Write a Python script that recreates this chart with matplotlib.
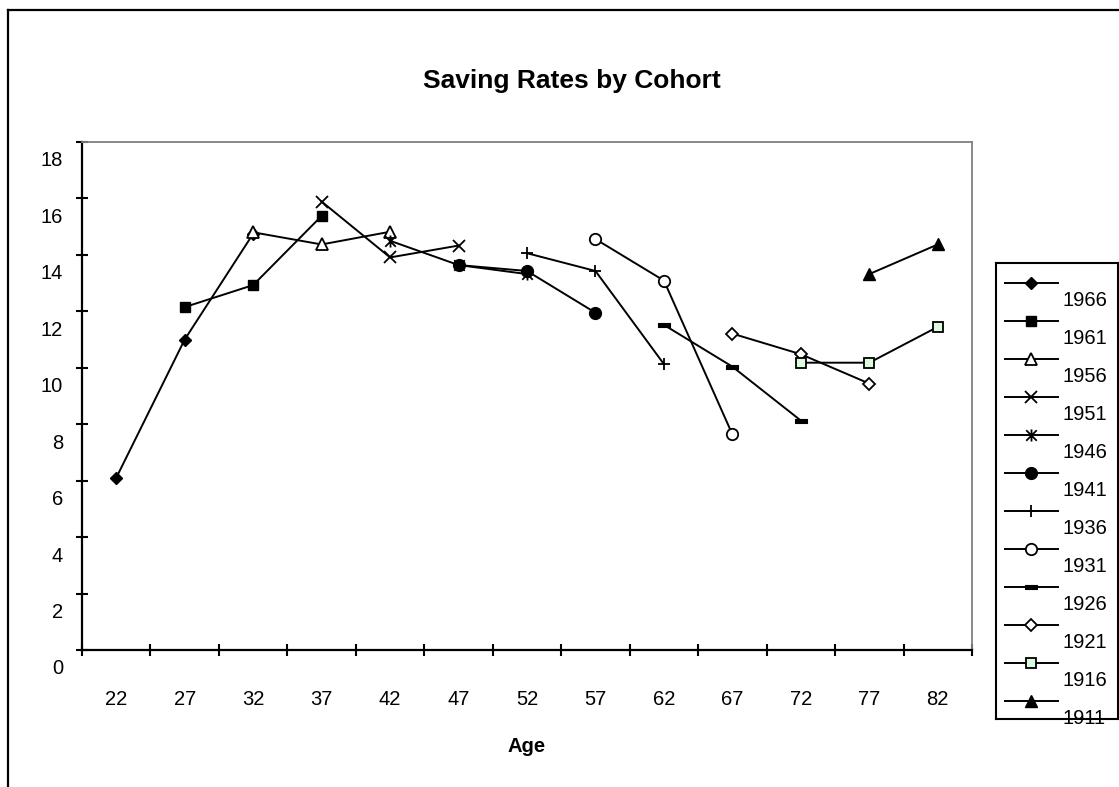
import numpy as np
import matplotlib
matplotlib.use("Agg")
import matplotlib.pyplot as plt
from matplotlib.path import Path
from matplotlib.lines import Line2D
from matplotlib.transforms import ScaledTranslation

plt.rcParams['font.family'] = ['Liberation Sans', 'DejaVu Sans']

# ---------------- data ----------------
ages = [22, 27, 32, 37, 42, 47, 52, 57, 62, 67, 72, 77, 82]
cohorts = ["1966", "1961", "1956", "1951", "1946", "1941",
           "1936", "1931", "1926", "1921", "1916", "1911"]
start_age = [22, 27, 32, 37, 42, 47, 52, 57, 62, 67, 72, 77]
rate_1966 = [6.1, 11.0, 14.75]
rate_1961 = [12.15, 12.93, 15.38]
rate_1956 = [14.8, 14.37, 14.82]
rate_1951 = [15.89, 13.91, 14.33]
rate_1946 = [14.5, 13.64, 13.32]
rate_1941 = [13.64, 13.43, 11.95]
rate_1936 = [14.06, 13.43, 10.13]
rate_1931 = [14.56, 13.09, 7.64]
rate_1926 = [11.52, 10.04, 8.13]
rate_1921 = [11.21, 10.48, 9.44]
rate_1916 = [10.18, 10.18, 11.45]
rate_1911 = [13.32, 14.37]
rates = [rate_1966, rate_1961, rate_1956, rate_1951, rate_1946, rate_1941,
         rate_1936, rate_1931, rate_1926, rate_1921, rate_1916, rate_1911]
yticks = [0, 2, 4, 6, 8, 10, 12, 14, 16, 18]

# ---------------- marker styles ----------------
asterisk = Path([(-1, -1), (1, 1), (-1, 1), (1, -1), (0, -1.15), (0, 1.15)],
                [Path.MOVETO, Path.LINETO, Path.MOVETO, Path.LINETO,
                 Path.MOVETO, Path.LINETO])
dash = Path([(-1, -0.3), (1, -0.3), (1, 0.3), (-1, 0.3), (-1, -0.3)],
            [Path.MOVETO, Path.LINETO, Path.LINETO, Path.LINETO, Path.CLOSEPOLY])
styles = [
    dict(marker='D', ms=6.6, mfc='black', mec='black'),
    dict(marker='s', ms=7.5, mfc='black', mec='black'),
    dict(marker='^', ms=8.7, mfc='white', mec='black', mew=1.3),
    dict(marker='x', ms=8.7, mfc='none', mec='black', mew=1.3),
    dict(marker=asterisk, ms=8.7, mfc='none', mec='black', mew=1.3),
    dict(marker='o', ms=8.5, mfc='black', mec='black'),
    dict(marker='+', ms=9.0, mfc='none', mec='black', mew=1.3),
    dict(marker='o', ms=8.2, mfc='white', mec='black', mew=1.3),
    dict(marker=dash, ms=9.0, mfc='black', mec='black', mew=0.8),
    dict(marker='D', ms=6.4, mfc='white', mec='black', mew=1.3),
    dict(marker='s', ms=7.5, mfc='#DDFBDD', mec='black', mew=1.3),
    dict(marker='^', ms=8.7, mfc='black', mec='black'),
]

W, H = 1119, 787
fig = plt.figure(figsize=(W / 100, H / 100), dpi=100)
fig.patch.set_facecolor('white')

ax = fig.add_axes([82 / W, (H - 650) / H, (972 - 82) / W, (650 - 142) / H])
for vals, st_age, style in zip(rates, start_age, styles):
    i0 = ages.index(st_age)
    x = np.arange(i0, i0 + len(vals))
    ax.plot(x, vals, color='black', lw=1.4, clip_on=False, **style)

ax.set_xlim(-0.5, len(ages) - 0.5)
ax.set_ylim(0, 18)
ax.set_xticks(np.arange(-0.5, len(ages), 1.0))
ax.set_xticklabels([])
ax.set_xticks(np.arange(len(ages)), minor=True)
ax.set_xticklabels([str(a) for a in ages], minor=True)
ax.tick_params(axis='x', which='major', direction='inout', length=8.5, width=1.5)
ax.tick_params(axis='x', which='minor', length=0, pad=29, labelsize=14.5)
ax.set_yticks(yticks)
ax.set_yticklabels([str(v) for v in yticks])
ax.tick_params(axis='y', direction='inout', length=8, width=1.5, pad=9.5, labelsize=14.5)
offset = ScaledTranslation(0, -17 / 100, fig.dpi_scale_trans)
for lab in ax.get_yticklabels():
    lab.set_transform(lab.get_transform() + offset)

for side in ['left', 'bottom']:
    ax.spines[side].set_color('black')
    ax.spines[side].set_linewidth(1.6)
for side in ['top', 'right']:
    ax.spines[side].set_color('#808080')
    ax.spines[side].set_linewidth(1.3)

# title and axis label
fig.text(572 / W, (H - 88) / H, 'Saving Rates by Cohort', ha='center', va='baseline',
         fontsize=19, fontweight='bold')
fig.text(527 / W, (H - 752) / H, 'Age', ha='center', va='baseline',
         fontsize=14.5, fontweight='bold')

# outer chart frame (cut off at right and bottom)
fig.add_artist(Line2D([7.5 / W, 7.5 / W], [0, (H - 10) / H], color='black', lw=1.6,
                      transform=fig.transFigure))
fig.add_artist(Line2D([7.5 / W, 1.0], [(H - 10) / H, (H - 10) / H], color='black', lw=1.6,
                      transform=fig.transFigure))

# legend (own axes, pixel units, top = 0)
lx0, lx1, ly0, ly1 = 996, 1118, 263, 719
lax = fig.add_axes([lx0 / W, (H - ly1) / H, (lx1 - lx0) / W, (ly1 - ly0) / H])
lax.set_xlim(0, lx1 - lx0)
lax.set_ylim(ly1 - ly0, 0)
lax.set_xticks([])
lax.set_yticks([])
for sp in lax.spines.values():
    sp.set_color('black')
    sp.set_linewidth(1.5)
for i, (name, style) in enumerate(zip(cohorts, styles)):
    yy = 20 + 38 * i
    lax.plot([9, 62], [yy, yy], color='black', lw=1.4)
    lax.plot([35], [yy], color='black', lw=0, **style)
    lax.text(67, yy + 18, name, ha='left', va='center', fontsize=14.5, clip_on=False)

fig.savefig('out.png', dpi=100)
